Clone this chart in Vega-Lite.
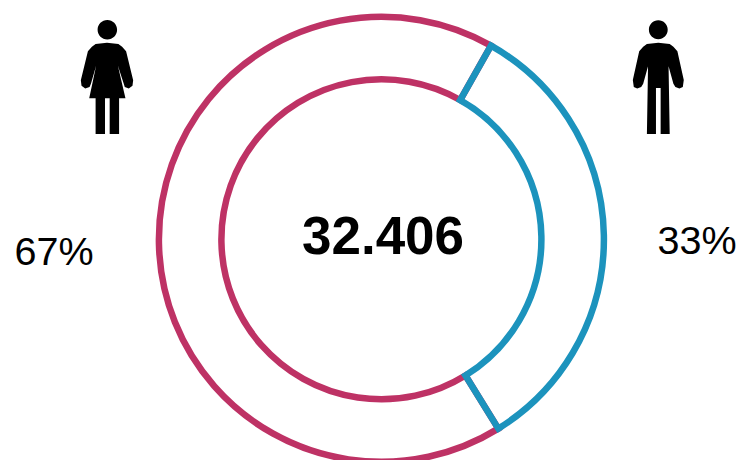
{
"$schema":"https://vega.github.io/schema/vega-lite/v6.json",
"width":738,"height":460,
"autosize":{"type":"fit","contains":"padding"},
"padding":0,
"background":"white",
"config":{"view":{"stroke":null},"text":{"font":"Liberation Sans"}},
"data":{"values":[
{"gender":"Frauen","share":67,"label":"67%"},
{"gender":"Männer","share":33,"label":"33%"}
]},
"resolve":{"scale":{"x":"independent","y":"independent"}},
"layer":[
{"mark":{"type":"arc","radius":222.5,"radius2":160,"x":381.4,"y":239.3,"fill":"transparent","strokeWidth":6.5,"strokeJoin":"miter"},
 "encoding":{
  "theta":{"field":"share","type":"quantitative","scale":{"domain":[0,100],"range":[0.515,6.798]}},
  "order":{"field":"share","sort":"ascending"},
  "stroke":{"field":"gender","type":"nominal","scale":{"domain":["Frauen","Männer"],"range":["#BE3265","#1C93BD"]},"legend":null}
 }},
{"mark":{"type":"point","filled":true,"fill":"black","stroke":null,"opacity":1,"size":12996},
 "encoding":{
  "x":{"field":"gender","type":"nominal","axis":null,"scale":{"type":"point","domain":["Frauen","Männer"],"range":[107,658.3],"padding":0}},
  "y":{"field":"gender","type":"nominal","axis":null,"scale":{"type":"point","domain":["Frauen","Männer"],"range":[77,77],"padding":0}},
  "shape":{"field":"gender","type":"nominal","legend":null,"scale":{"domain":["Frauen","Männer"],"range":[
"M0.177,-0.829A0.171,0.171 0 1 1 -0.165,-0.829A0.171,0.171 0 1 1 0.177,-0.829ZM0,-0.6L0.2,-0.58L0.265,-0.529L0.335,-0.453L0.459,0.059L0.447,0.153L0.382,0.2L0.312,0.176L0.294,0.118L0.19,-0.2L0.324,0.371L0.212,0.371L0.212,1L0.047,1L0.047,0.371L-0.035,0.371L-0.035,1L-0.2,1L-0.2,0.371L-0.312,0.371L-0.19,-0.2L-0.282,0.118L-0.306,0.176L-0.382,0.2L-0.447,0.153L-0.459,0.059L-0.335,-0.453L-0.265,-0.529L-0.2,-0.58Z",
"M0.165,-0.829A0.165,0.165 0 1 1 -0.165,-0.829A0.165,0.165 0 1 1 0.165,-0.829ZM0,-0.6L0.2,-0.58L0.265,-0.529L0.335,-0.453L0.447,0.053L0.43,0.176L0.37,0.2L0.3,0.176L0.265,0.118L0.18,-0.19L0.2,1L0.041,1L0.041,0.194L-0.041,0.194L-0.041,1L-0.2,1L-0.18,-0.19L-0.265,0.118L-0.3,0.176L-0.37,0.2L-0.43,0.176L-0.447,0.053L-0.335,-0.453L-0.265,-0.529L-0.2,-0.58Z"
]}}
 }},
{"mark":{"type":"text","fontSize":39.5,"font":"Liberation Sans","fill":"black","align":"center","baseline":"alphabetic"},
 "encoding":{
  "x":{"field":"gender","type":"nominal","axis":null,"scale":{"type":"point","domain":["Frauen","Männer"],"range":[54,697],"padding":0}},
  "y":{"field":"gender","type":"nominal","axis":null,"scale":{"type":"point","domain":["Frauen","Männer"],"range":[265,254],"padding":0}},
  "text":{"field":"label"}
 }},
{"data":{"values":[{"total":"32.406"}]},
 "mark":{"type":"text","fontSize":53,"fontWeight":"bold","font":"Liberation Sans","fill":"black","align":"center","baseline":"alphabetic","x":383,"y":254},
 "encoding":{"text":{"field":"total"}}}
]
}
